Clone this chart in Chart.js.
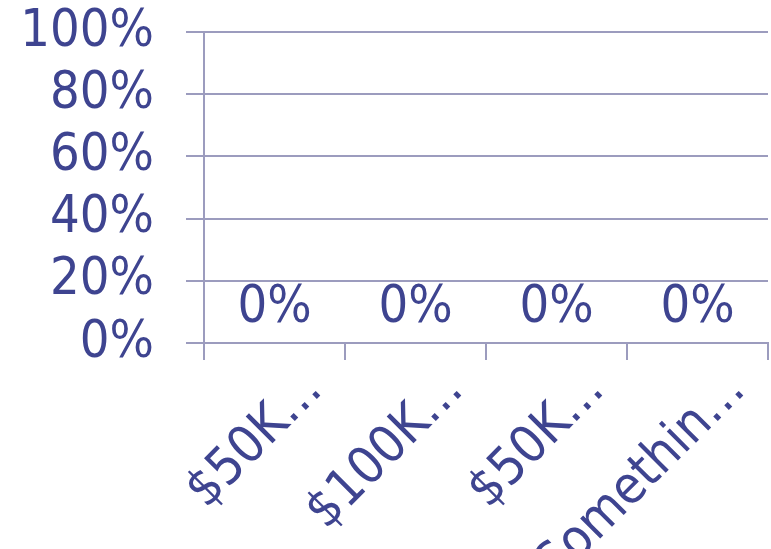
<!DOCTYPE html>
<html>
<head>
<meta charset="utf-8">
<script src="https://cdn.jsdelivr.net/npm/chart.js@4.4.0/dist/chart.umd.min.js"></script>
<style>
  html, body { margin: 0; padding: 0; background: #fff; }
  #wrap { width: 771px; height: 549px; }
</style>
</head>
<body>
<div id="wrap"><canvas id="incomeChart" width="771" height="549"></canvas></div>
<script>
const categories = ["$50K…", "$100K…", "$50K…", "Somethin…"];
const shares = [0, 0, 0, 0];
const yTicks = [0, 20, 40, 60, 80, 100];

const ink = "#3e4490";
const rule = "#9c9cbe";
const font = { family: "'DejaVu Sans Condensed', 'DejaVu Sans', sans-serif", size: 52 };

// draws the "0%" labels above each bar
const valueLabels = {
  id: "valueLabels",
  afterDatasetsDraw(chart) {
    const ctx = chart.ctx;
    const y = chart.scales.y;
    const meta = chart.getDatasetMeta(0);
    ctx.save();
    ctx.fillStyle = ink;
    ctx.font = font.size + "px " + font.family;
    ctx.textAlign = "center";
    ctx.textBaseline = "alphabetic";
    meta.data.forEach((bar, i) => {
      const v = shares[i];
      ctx.fillText(v + "%", bar.x, y.getPixelForValue(v) - 21);
    });
    ctx.restore();
  }
};

const chart = new Chart(document.getElementById("incomeChart"), {
  type: "bar",
  data: {
    labels: categories,
    datasets: [{
      data: shares,
      backgroundColor: ink
    }]
  },
  options: {
    responsive: false,
    animation: false,
    layout: { padding: { top: 32, right: 3, left: 0, bottom: 0 } },
    plugins: {
      legend: { display: false },
      tooltip: { enabled: false }
    },
    scales: {
      x: {
        offset: true,
        grid: {
          offset: true,
          drawOnChartArea: false,
          drawTicks: true,
          tickLength: 17,
          color: rule,
          lineWidth: 2
        },
        border: { color: rule, width: 2 },
        ticks: {
          color: ink,
          font: font,
          minRotation: 45,
          maxRotation: 45,
          autoSkip: false,
          labelOffset: 40,
          padding: 0
        },
        afterFit(scale) {
          scale.height = 206;
          scale.paddingLeft = 0;
          scale.paddingRight = 0;
        }
      },
      y: {
        min: 0,
        max: 100,
        afterBuildTicks(scale) { scale.ticks = yTicks.map(v => ({ value: v })); },
        grid: {
          color: rule,
          lineWidth: 2,
          tickLength: 18
        },
        border: { color: rule, width: 2 },
        ticks: {
          color: ink,
          font: font,
          autoSkip: false,
          padding: 32,
          callback: v => v + "%"
        },
        afterFit(scale) {
          scale.width = 204;
          scale.paddingTop = 0;
          scale.paddingBottom = 0;
        }
      }
    }
  },
  plugins: [valueLabels]
});
</script>
</body>
</html>
